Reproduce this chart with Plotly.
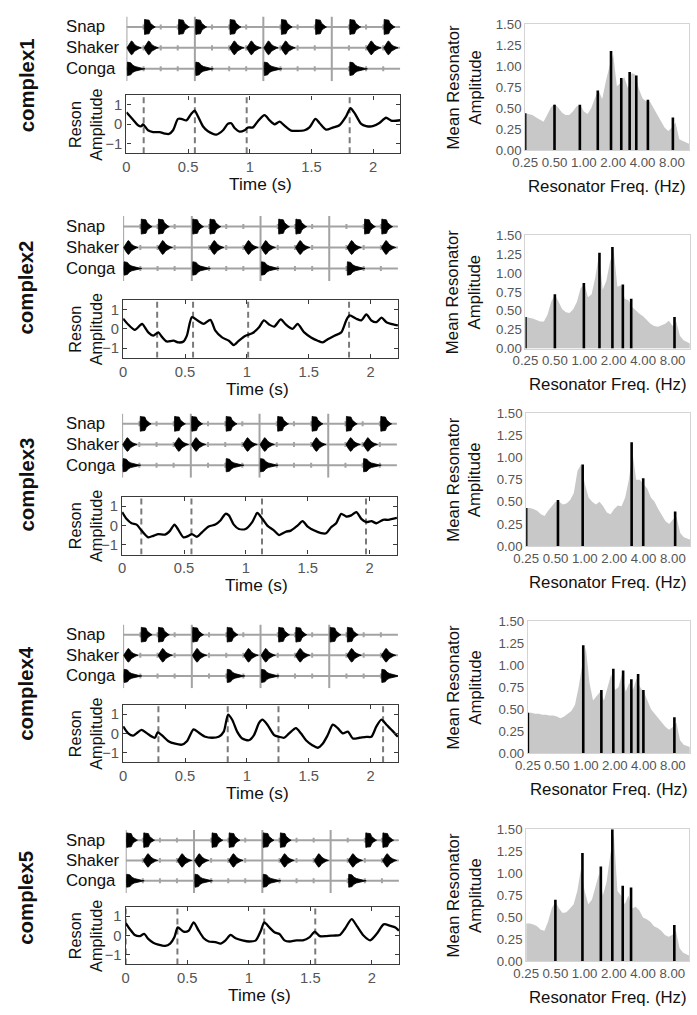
import plotly.graph_objects as go

# ---------------- data ----------------
PATTERN_NAMES = ["complex1", "complex2", "complex3", "complex4", "complex5"]
INSTRUMENTS = ["Snap", "Shaker", "Conga"]
TIME_MAX = 2.22
BAR_LINES_S = [0.0, 0.555, 1.11, 1.665]
BEAT_TICKS_S = [0.139, 0.278, 0.416, 0.694, 0.833, 0.971, 1.249, 1.388, 1.527,
                1.804, 1.943, 2.082]
TIME_TICKS = [0, 0.5, 1, 1.5, 2]
TIME_TICK_TEXT = ["0", "0.5", "1", "1.5", "2"]
AMP_TICKS = [-1, 0, 1]
FREQ_TICKS = [0.25, 0.5, 1, 2, 4, 8]
FREQ_TICK_TEXT = ["0.25", "0.50", "1.00", "2.00", "4.00", "8.00"]
SPEC_TICKS = [0, 0.25, 0.5, 0.75, 1.0, 1.25, 1.5]

SNAP_ONSETS = [
    [0.139, 0.416, 0.555, 0.833, 1.249, 1.527, 1.804, 2.082],
    [0.139, 0.278, 0.555, 0.694, 1.249, 1.388, 1.943, 2.082],
    [0.139, 0.416, 0.555, 0.833, 1.249, 1.527, 1.804, 2.082],
    [0.139, 0.278, 0.555, 0.833, 1.249, 1.388, 1.665, 1.804],
    [0.0, 0.139, 0.694, 0.833, 1.110, 1.249, 1.943, 2.082],
]
SHAKER_ONSETS = [
    [0.0, 0.139, 0.833, 0.971, 1.110, 1.249, 1.943, 2.082],
    [0.0, 0.278, 0.694, 0.971, 1.110, 1.388, 1.804, 2.082],
    [0.0, 0.416, 0.555, 0.971, 1.110, 1.527, 1.804, 1.943],
    [0.0, 0.278, 0.555, 0.971, 1.110, 1.388, 1.804, 2.082],
    [0.139, 0.416, 0.555, 0.833, 1.249, 1.527, 1.804, 2.082],
]
CONGA_ONSETS = [
    [0.0, 0.555, 1.110, 1.804],
    [0.0, 0.555, 1.110, 1.804],
    [0.0, 0.833, 1.110, 1.943],
    [0.0, 0.833, 1.110, 2.082],
    [0.0, 0.555, 1.110, 1.804],
]

DASH_TIMES = [
    [0.14, 0.555, 0.975, 1.81],
    [0.275, 0.565, 1.01, 1.825],
    [0.155, 0.56, 1.13, 1.97],
    [0.285, 0.845, 1.255, 2.10],
    [0.0, 0.42, 1.125, 1.54],
]

RESON_T = [
    [0, 0.054, 0.094, 0.121, 0.135, 0.175, 0.216, 0.27, 0.31, 0.345, 0.378, 0.418, 0.445,
     0.486, 0.526, 0.553, 0.58, 0.62, 0.661, 0.729, 0.783, 0.823, 0.85, 0.877, 0.918, 0.958,
     0.985, 1.026, 1.066, 1.12, 1.161, 1.201, 1.242, 1.282, 1.336, 1.39, 1.444, 1.484, 1.533,
     1.565, 1.619, 1.673, 1.727, 1.781, 1.816, 1.849, 1.903, 1.943, 1.997, 2.051, 2.105,
     2.146, 2.22],
    [0, 0.041, 0.095, 0.136, 0.154, 0.203, 0.244, 0.285, 0.312, 0.352, 0.407, 0.447, 0.488,
     0.515, 0.556, 0.61, 0.65, 0.705, 0.745, 0.799, 0.854, 0.894, 0.935, 0.989, 1.043, 1.098,
     1.138, 1.179, 1.22, 1.274, 1.314, 1.369, 1.409, 1.463, 1.518, 1.572, 1.612, 1.653, 1.707,
     1.762, 1.802, 1.829, 1.883, 1.924, 1.965, 2.005, 2.046, 2.087, 2.127, 2.182, 2.22],
    [0, 0.035, 0.076, 0.117, 0.157, 0.211, 0.252, 0.293, 0.347, 0.388, 0.423, 0.45, 0.496,
     0.537, 0.564, 0.604, 0.645, 0.699, 0.753, 0.794, 0.835, 0.862, 0.902, 0.943, 0.997,
     1.051, 1.092, 1.133, 1.173, 1.228, 1.268, 1.322, 1.363, 1.417, 1.458, 1.499, 1.553,
     1.607, 1.648, 1.688, 1.729, 1.77, 1.81, 1.851, 1.892, 1.932, 1.973, 2.014, 2.054, 2.108,
     2.149, 2.22],
    [0, 0.041, 0.081, 0.108, 0.149, 0.203, 0.257, 0.279, 0.312, 0.366, 0.42, 0.474, 0.515,
     0.569, 0.61, 0.664, 0.718, 0.772, 0.813, 0.848, 0.881, 0.921, 0.962, 1.016, 1.057, 1.098,
     1.125, 1.165, 1.22, 1.26, 1.301, 1.341, 1.396, 1.436, 1.477, 1.531, 1.572, 1.612, 1.653,
     1.694, 1.734, 1.775, 1.816, 1.856, 1.911, 1.965, 2.005, 2.046, 2.087, 2.127, 2.182, 2.22],
    [0, 0.033, 0.074, 0.115, 0.15, 0.183, 0.224, 0.265, 0.32, 0.361, 0.396, 0.423, 0.47,
     0.511, 0.552, 0.593, 0.634, 0.675, 0.73, 0.77, 0.811, 0.852, 0.893, 0.948, 1.003, 1.057,
     1.098, 1.126, 1.167, 1.208, 1.249, 1.29, 1.331, 1.385, 1.44, 1.495, 1.536, 1.577, 1.631,
     1.686, 1.74, 1.781, 1.836, 1.877, 1.932, 1.986, 2.041, 2.096, 2.15, 2.191, 2.22],
]
RESON_A = [
    [0.62, 0.24, -0.05, -0.10, 0.0, -0.31, -0.40, -0.41, -0.48, -0.50, -0.31, 0.28, 0.28,
     0.20, 0.55, 0.71, 0.41, -0.10, -0.36, -0.53, -0.31, 0.03, 0.05, -0.19, -0.38, -0.31,
     -0.17, -0.16, 0.16, 0.47, 0.20, 0.0, 0.14, -0.07, -0.33, -0.34, -0.31, -0.16, 0.28,
     0.07, -0.28, -0.17, -0.05, 0.41, 0.83, 0.59, 0.02, -0.09, -0.10, 0.07, 0.34, 0.19, 0.21],
    [0.53, 0.23, -0.05, 0.18, 0.26, -0.18, -0.35, -0.18, -0.40, -0.65, -0.61, -0.70, -0.65,
     -0.35, 0.61, 0.40, 0.26, 0.47, -0.09, -0.44, -0.61, -0.84, -0.61, -0.35, -0.23, 0.09,
     0.44, 0.23, 0.12, 0.49, 0.23, 0.0, 0.26, -0.18, -0.44, -0.61, -0.70, -0.53, -0.35, -0.18,
     0.44, 0.70, 0.53, 0.44, 0.75, 0.44, 0.35, 0.58, 0.35, 0.23, 0.18],
    [0.70, 0.35, 0.12, 0.05, -0.26, -0.61, -0.53, -0.44, -0.47, -0.26, 0.05, -0.18, -0.61,
     -0.53, -0.44, -0.58, -0.35, -0.05, 0.05, 0.26, 0.61, 0.53, 0.05, -0.18, -0.18, 0.18,
     0.65, 0.35, 0.0, -0.26, -0.49, -0.32, -0.26, 0.0, 0.23, -0.05, -0.26, -0.39, -0.40,
     -0.09, 0.12, 0.61, 0.47, 0.53, 0.70, 0.35, 0.18, 0.23, 0.12, 0.30, 0.30, 0.40],
    [0.36, 0.0, -0.12, 0.0, 0.18, -0.05, -0.23, 0.05, -0.09, -0.41, -0.54, -0.59, -0.41,
     0.21, 0.04, -0.18, -0.23, -0.18, 0.09, 0.98, 0.71, 0.09, -0.27, -0.36, -0.09, 0.54,
     0.71, 0.45, -0.09, -0.18, -0.23, 0.0, 0.27, 0.0, -0.36, -0.63, -0.75, -0.54, -0.09,
     0.45, 0.27, 0.0, 0.09, -0.27, -0.23, -0.18, -0.18, 0.36, 0.71, 0.45, 0.09, -0.18],
    [0.64, 0.34, 0.03, -0.03, 0.08, -0.17, -0.37, -0.47, -0.54, -0.42, -0.08, 0.42, 0.20,
     0.25, 0.68, 0.25, -0.14, -0.31, -0.34, -0.42, -0.25, 0.03, -0.14, -0.25, -0.31, -0.25,
     0.25, 0.68, 0.42, 0.17, 0.08, -0.25, -0.31, -0.25, -0.25, -0.08, 0.20, -0.03, -0.03,
     0.0, 0.03, 0.35, 0.85, 0.50, 0.0, -0.25, 0.10, 0.58, 0.50, 0.42, 0.25],
]

FREQ_GRID = [0.25, 0.273, 0.297, 0.324, 0.354, 0.386, 0.42, 0.459, 0.5, 0.545, 0.595,
             0.648, 0.707, 0.771, 0.841, 0.917, 1.0, 1.091, 1.189, 1.297, 1.414, 1.542,
             1.682, 1.834, 2.0, 2.181, 2.378, 2.594, 2.828, 3.084, 3.364, 3.668, 4.0, 4.362,
             4.757, 5.187, 5.657, 6.169, 6.727, 7.336, 8.0, 8.724, 9.514, 10.375, 11.314, 12.338]
SPECTRUM = [
    [0.44, 0.43, 0.42, 0.39, 0.36, 0.34, 0.42, 0.51, 0.55, 0.51,
     0.45, 0.42, 0.42, 0.46, 0.52, 0.54, 0.46, 0.43, 0.50, 0.62,
     0.71, 0.61, 0.82, 1.00, 1.14, 0.76, 0.80, 0.87, 0.74, 0.92,
     0.90, 0.73, 0.62, 0.58, 0.58, 0.50, 0.42, 0.34, 0.27, 0.23,
     0.27, 0.33, 0.13, 0.11, 0.09, 0.07],
    [0.42, 0.41, 0.40, 0.38, 0.36, 0.36, 0.45, 0.62, 0.71, 0.62,
     0.52, 0.48, 0.47, 0.52, 0.62, 0.80, 0.86, 0.68, 0.72, 0.95,
     1.25, 0.78, 0.90, 1.15, 1.30, 0.82, 0.84, 0.66, 0.64, 0.55,
     0.50, 0.46, 0.43, 0.38, 0.33, 0.30, 0.29, 0.31, 0.33, 0.37,
     0.30, 0.36, 0.17, 0.11, 0.08, 0.06],
    [0.43, 0.43, 0.42, 0.40, 0.36, 0.34, 0.40, 0.45, 0.50, 0.50,
     0.47, 0.48, 0.52, 0.60, 0.85, 0.92, 0.70, 0.55, 0.50, 0.47,
     0.50, 0.45, 0.38, 0.36, 0.42, 0.46, 0.45, 0.55, 0.75, 1.05,
     0.75, 0.75, 0.70, 0.65, 0.55, 0.50, 0.42, 0.35, 0.28, 0.25,
     0.30, 0.33, 0.15, 0.10, 0.08, 0.07],
    [0.46, 0.46, 0.45, 0.45, 0.44, 0.44, 0.43, 0.43, 0.42, 0.40,
     0.42, 0.45, 0.48, 0.55, 0.75, 1.00, 1.20, 0.80, 0.60, 0.65,
     0.70, 0.60, 0.75, 0.90, 0.72, 0.75, 0.90, 0.70, 0.80, 0.72,
     0.85, 0.75, 0.70, 0.60, 0.50, 0.45, 0.40, 0.35, 0.30, 0.27,
     0.30, 0.35, 0.15, 0.10, 0.08, 0.07],
    [0.43, 0.43, 0.42, 0.40, 0.36, 0.35, 0.45, 0.60, 0.68, 0.60,
     0.55, 0.56, 0.60, 0.65, 0.80, 1.05, 0.80, 0.65, 0.70, 0.85,
     1.00, 0.75, 0.90, 1.20, 1.45, 0.80, 0.75, 0.65, 0.75, 0.60,
     0.62, 0.58, 0.50, 0.48, 0.45, 0.40, 0.38, 0.35, 0.30, 0.28,
     0.30, 0.35, 0.15, 0.10, 0.08, 0.06],
]
PEAK_FREQS = [
    [0.25, 0.50, 0.91, 1.39, 1.90, 2.42, 2.95, 3.45, 4.54, 8.19],
    [0.25, 0.50, 0.99, 1.43, 1.94, 2.48, 3.02, 8.38],
    [0.25, 0.53, 0.95, 3.02, 3.97, 8.44],
    [0.25, 0.94, 1.45, 1.93, 2.44, 2.97, 3.49, 3.96, 8.31],
    [0.50, 0.95, 1.47, 1.93, 2.47, 3.01, 8.40],
]
PEAK_HEIGHTS = [
    [0.44, 0.54, 0.54, 0.71, 1.18, 0.86, 0.93, 0.89, 0.60, 0.39],
    [0.42, 0.72, 0.87, 1.27, 1.345, 0.85, 0.66, 0.42],
    [0.43, 0.52, 0.92, 1.17, 0.765, 0.39],
    [0.46, 1.225, 0.72, 0.96, 0.94, 0.84, 0.90, 0.72, 0.41],
    [0.70, 1.23, 1.077, 1.50, 0.86, 0.84, 0.415],
]

# ---------------- style / layout ----------------
FONT = "Liberation Sans, Arial, Helvetica, sans-serif"
W, H = 697, 1015
# calibration of the photographed page (observed = A + B * layout pixel)
AX, BX = 11.5, 0.982
AY, BY = 5.5, 0.987
FS = 1.0 / BX  # font compensation


def PX(x):
    return min(1.0, max(0.0, (x - AX) / BX / W))


def PY(y):
    return min(1.0, max(0.0, 1 - (y - AY) / BY / H))


def fs(v):
    return round(v * FS, 2)


ROW_GEOM = [
    dict(L=125, R=399, ot=15, ob=80, rt=94, rb=152, SL=524, SR=688, st=22.7, sb=149),
    dict(L=121.7, R=396.7, ot=215, ob=280, rt=299, rb=357, SL=524.3, SR=688.7, st=234.3, sb=347.7),
    dict(L=120.7, R=395.7, ot=412.7, ob=477, rt=496, rb=554, SL=525, SR=689, st=412.3, sb=545.7),
    dict(L=121.7, R=396.7, ot=624, ob=688, rt=704.3, rb=762, SL=526.7, SR=688.7, st=620.7, sb=753.3),
    dict(L=124.3, R=397.7, ot=830, ob=893, rt=906.7, rb=964.7, SL=525, SR=688.3, st=829.3, sb=961.7),
]

SHAPES = {
    "Snap": ([0.006, 0.008, 0.02, 0.045, 0.055, 0.07, 0.085, 0.095],
             [0, 1.0, 0.95, 0.9, 0.5, 0.25, 0.08, 0], 0.36),
    "Shaker": ([0.004, 0.02, 0.04, 0.05, 0.065, 0.085, 0.105, 0.12],
               [0, 0.5, 1.0, 0.9, 0.5, 0.25, 0.08, 0], 0.33),
    "Conga": ([0.006, 0.008, 0.035, 0.05, 0.07, 0.1, 0.13, 0.15],
              [0, 1.0, 0.9, 0.55, 0.35, 0.17, 0.06, 0], 0.32),
}
ROW_Y = {"Snap": 3, "Shaker": 2, "Conga": 1}
GRAY = "#a3a3a3"


def xname(n):
    return "xaxis" if n == 1 else f"xaxis{n}"


def yname(n):
    return "yaxis" if n == 1 else f"yaxis{n}"


def xr(n):
    return "x" if n == 1 else f"x{n}"


def yr(n):
    return "y" if n == 1 else f"y{n}"


fig = go.Figure()
layout = dict(
    width=W, height=H, margin=dict(l=0, r=0, t=0, b=0),
    paper_bgcolor="white", plot_bgcolor="rgba(0,0,0,0)",
    showlegend=False, font=dict(family=FONT, color="#222"),
)
annotations = []

for r in range(5):
    g = ROW_GEOM[r]
    n1, n2, n3 = 3 * r + 1, 3 * r + 2, 3 * r + 3

    # ---- onset panel ----
    layout[xname(n1)] = dict(domain=[PX(g["L"]), PX(g["R"])], range=[0, TIME_MAX],
                             visible=False, anchor=yr(n1))
    layout[yname(n1)] = dict(domain=[PY(g["ob"]), PY(g["ot"])], range=[0.4, 3.5],
                             visible=False, anchor=xr(n1))
    hx, hy = [], []
    for name in INSTRUMENTS:
        hx += [0, TIME_MAX, None]
        hy += [ROW_Y[name], ROW_Y[name], None]
        for b in BEAT_TICKS_S:
            hx += [b, b, None]
            hy += [ROW_Y[name] - 0.12, ROW_Y[name] + 0.12, None]
    for b in BAR_LINES_S:
        hx += [b, b, None]
        hy += [0.4, 3.5, None]
    fig.add_trace(go.Scatter(x=hx, y=hy, mode="lines", line=dict(color=GRAY, width=2),
                             xaxis=xr(n1), yaxis=yr(n1), hoverinfo="skip"))
    for name, onsets in (("Snap", SNAP_ONSETS[r]), ("Shaker", SHAKER_ONSETS[r]),
                         ("Conga", CONGA_ONSETS[r])):
        dts, env, amp = SHAPES[name]
        bx, by = [], []
        yc = ROW_Y[name]
        for t0 in onsets:
            bx += [t0 + d for d in dts] + [t0 + d for d in reversed(dts)] + [None]
            by += [yc + amp * e for e in env] + [yc - amp * e for e in reversed(env)] + [None]
        fig.add_trace(go.Scatter(x=bx, y=by, mode="lines", fill="toself",
                                 fillcolor="black", line=dict(color="black", width=0.8),
                                 xaxis=xr(n1), yaxis=yr(n1), hoverinfo="skip"))
        annotations.append(dict(text=name, xref="paper", x=PX(63), xanchor="left",
                                yref=yr(n1), y=yc, yanchor="middle", showarrow=False,
                                font=dict(size=fs(16.5), color="#111")))

    # ---- reson panel ----
    axis_common = dict(showline=True, linecolor="#3a3a3a", linewidth=1.4, mirror="allticks",
                       ticks="inside", ticklen=4, tickcolor="#3a3a3a", tickwidth=1,
                       showgrid=False, zeroline=False,
                       tickfont=dict(size=fs(14.5), color="#555", family=FONT))
    layout[xname(n2)] = dict(domain=[PX(g["L"]), PX(g["R"])], range=[0, TIME_MAX],
                             tickvals=TIME_TICKS, ticktext=TIME_TICK_TEXT, anchor=yr(n2),
                             **axis_common)
    layout[yname(n2)] = dict(domain=[PY(g["rb"]), PY(g["rt"])], range=[-1.5, 1.5],
                             tickvals=AMP_TICKS, anchor=xr(n2), **axis_common)
    dx, dy = [], []
    for t in DASH_TIMES[r]:
        dx += [t, t, None]
        dy += [-1.5, 1.5, None]
    fig.add_trace(go.Scatter(x=dx, y=dy, mode="lines",
                             line=dict(color="#7a7a7a", width=2, dash="6px,4px"),
                             xaxis=xr(n2), yaxis=yr(n2), hoverinfo="skip"))
    fig.add_trace(go.Scatter(x=RESON_T[r], y=RESON_A[r], mode="lines",
                             line=dict(color="black", width=2.3, shape="spline", smoothing=0.7),
                             xaxis=xr(n2), yaxis=yr(n2), hoverinfo="skip"))
    annotations.append(dict(text="Reson<br>Amplitude", xref="paper", yref="paper",
                            x=PX(84), y=PY((g["rt"] + g["rb"]) / 2), textangle=-90,
                            showarrow=False, xanchor="center", yanchor="middle",
                            font=dict(size=fs(16), color="#111")))
    annotations.append(dict(text="Time (s)", xref="paper", yref="paper",
                            x=PX((g["L"] + g["R"]) / 2 - 3), y=PY(g["rb"] + 31),
                            showarrow=False, xanchor="center", yanchor="middle",
                            font=dict(size=fs(17), color="#111")))

    # ---- spectrum panel ----
    spec_common = dict(showline=True, linecolor="#d4d4d4", linewidth=1, mirror=True,
                       ticks="", showgrid=False, zeroline=False,
                       tickfont=dict(size=fs(13), color="#555", family=FONT))
    layout[xname(n3)] = dict(domain=[PX(g["SL"]), PX(g["SR"])], type="log",
                             range=[-0.60206, 1.07918], tickvals=FREQ_TICKS,
                             ticktext=FREQ_TICK_TEXT, anchor=yr(n3), **spec_common)
    layout[yname(n3)] = dict(domain=[PY(g["sb"]), PY(g["st"])], range=[0, 1.5],
                             tickvals=SPEC_TICKS, tickformat=".2f", anchor=xr(n3),
                             **spec_common)
    fig.add_trace(go.Scatter(x=FREQ_GRID, y=SPECTRUM[r], mode="lines",
                             line=dict(color="#c8c8c8", width=0),
                             fill="tozeroy", fillcolor="#c8c8c8",
                             xaxis=xr(n3), yaxis=yr(n3), hoverinfo="skip"))
    bxs, bys = [], []
    for f, h in zip(PEAK_FREQS[r], PEAK_HEIGHTS[r]):
        bxs += [f, f, None]
        bys += [0, h, None]
    fig.add_trace(go.Scatter(x=bxs, y=bys, mode="lines", line=dict(color="black", width=2.6),
                             xaxis=xr(n3), yaxis=yr(n3), hoverinfo="skip"))
    annotations.append(dict(text="Mean Resonator<br>Amplitude", xref="paper", yref="paper",
                            x=PX(463), y=PY((g["st"] + g["sb"]) / 2), textangle=-90,
                            showarrow=False, xanchor="center", yanchor="middle",
                            font=dict(size=fs(16.5), color="#111")))
    annotations.append(dict(text="Resonator Freq. (Hz)", xref="paper", yref="paper",
                            x=PX((g["SL"] + g["SR"]) / 2), y=PY(g["sb"] + 36),
                            showarrow=False, xanchor="center", yanchor="middle",
                            font=dict(size=fs(16.5), color="#111")))

    annotations.append(dict(text="<b>" + PATTERN_NAMES[r] + "</b>", xref="paper", yref="paper",
                            x=PX(25), y=PY((g["ot"] + g["rb"]) / 2), textangle=-90,
                            showarrow=False, xanchor="center", yanchor="middle",
                            font=dict(size=fs(20), color="#111")))

layout["annotations"] = annotations
fig.update_layout(**layout)
fig.write_html(
    "out.html",
    config={"displayModeBar": False},
    post_script=("document.body.style.margin='0';document.body.style.padding='0';"
                 "document.documentElement.style.overflow='hidden';"),
)
